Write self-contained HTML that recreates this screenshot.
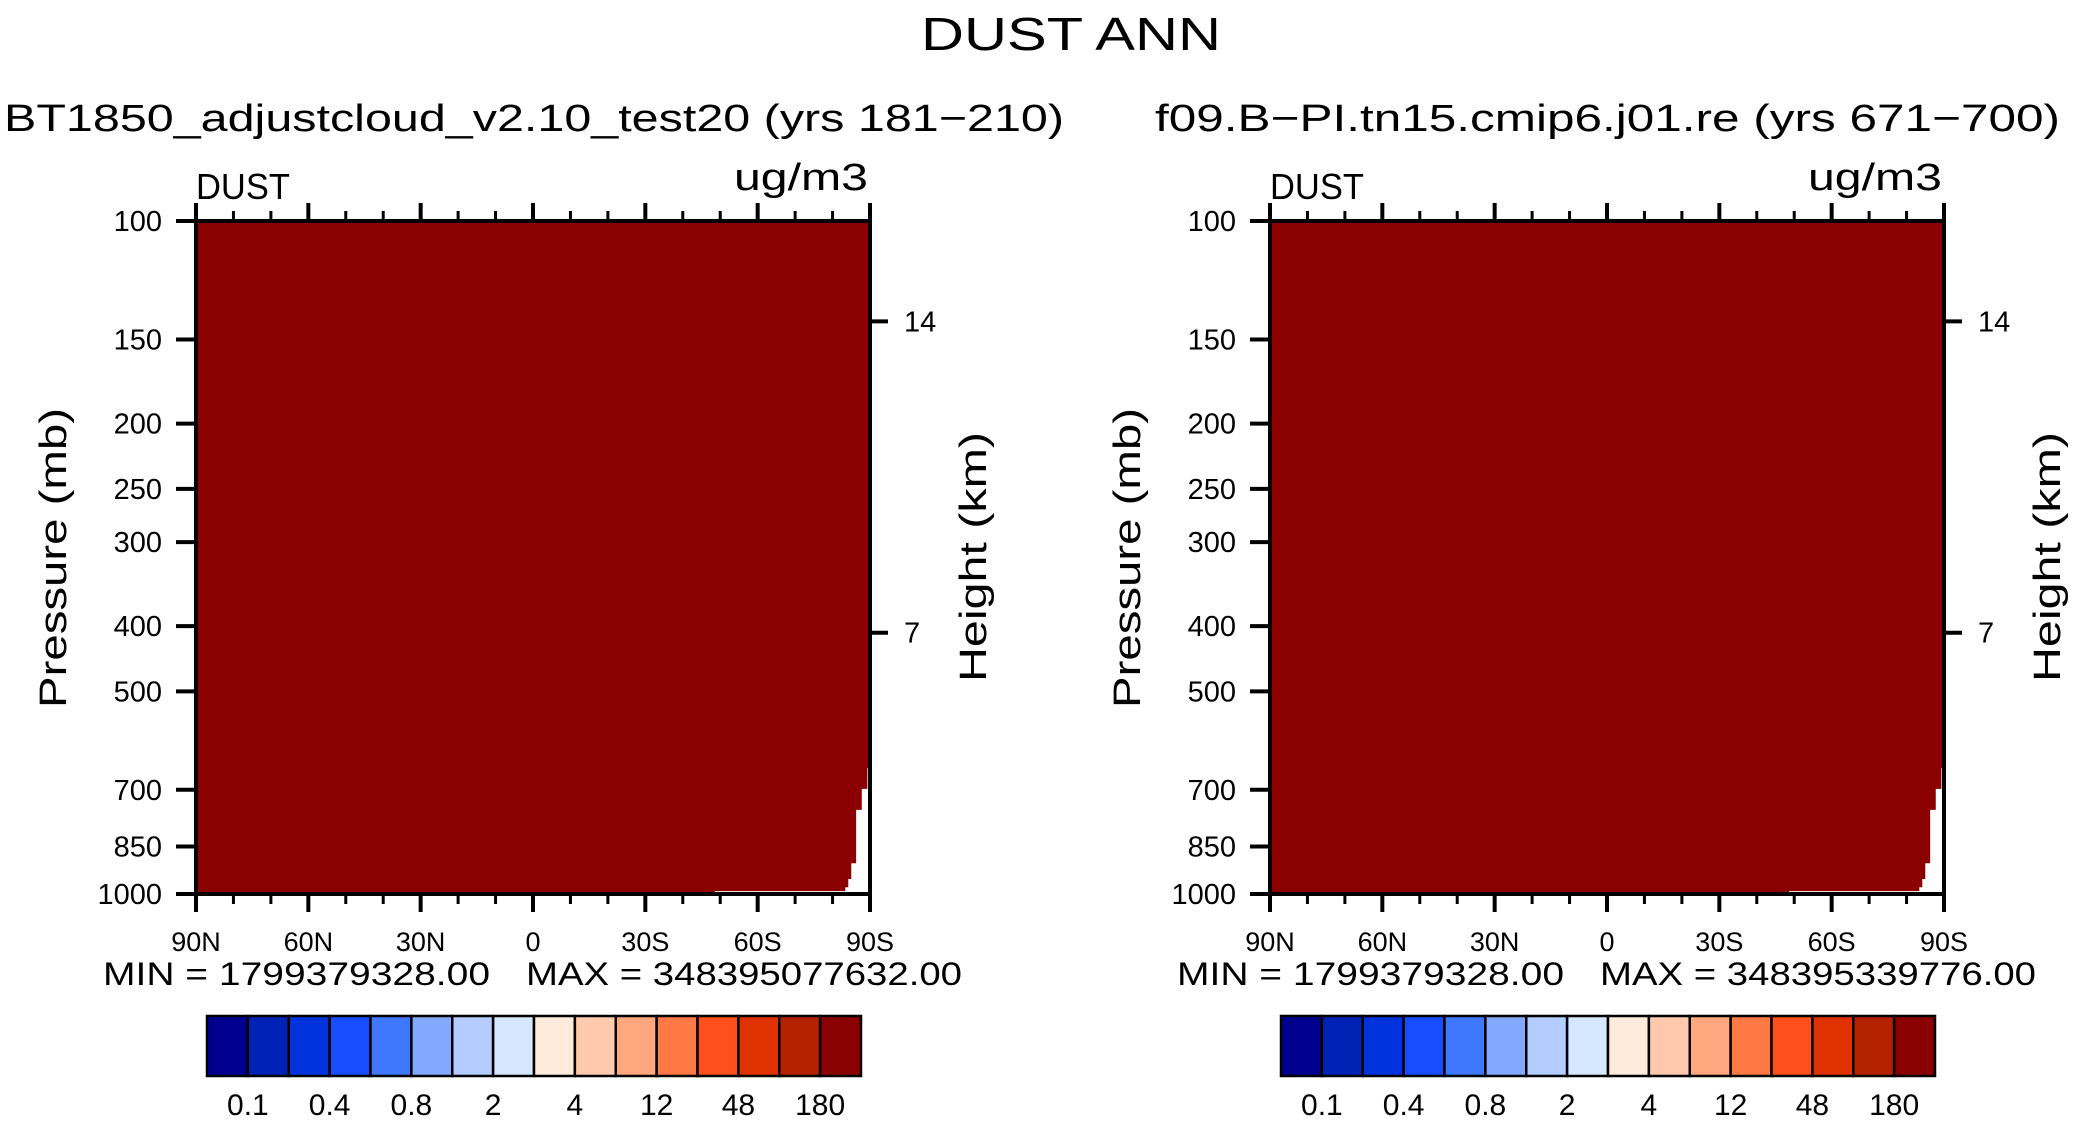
<!DOCTYPE html>
<html><head><meta charset="utf-8">
<style>
html,body{margin:0;padding:0;background:#fff;}
svg{display:block;}
text{font-family:"Liberation Sans","DejaVu Sans",sans-serif;fill:#000;}
</style></head>
<body>
<svg id="chart" width="2077" height="1121" viewBox="0 0 2077 1121" xmlns="http://www.w3.org/2000/svg">
<text x="1071" y="50" font-size="46" text-anchor="middle" textLength="300" lengthAdjust="spacingAndGlyphs">DUST ANN</text>
<text x="4" y="131" font-size="38" textLength="1060" lengthAdjust="spacingAndGlyphs">BT1850_adjustcloud_v2.10_test20 (yrs 181−210)</text>
<text x="1155" y="131" font-size="38" textLength="905" lengthAdjust="spacingAndGlyphs">f09.B−PI.tn15.cmip6.j01.re (yrs 671−700)</text>
<g id="panels"></g>
</svg>
<script>
// ---- data ----
const pressureTicks = [100,150,200,250,300,400,500,700,850,1000];
const heightTicks = [14,7];
const heightTickPressure = [141, 409];
const latTicks = [90,60,30,0,-30,-60,-90];
const latTickLabels = ["90N","60N","30N","0","30S","60S","90S"];
const colorLevels = ["0.1","0.2","0.4","0.6","0.8","1","2","3","4","8","12","24","48","96","180"];
const colorbarColors = ["#00008f","#0022b5","#0033dd","#1a4cff","#3f78ff","#82a8ff","#b4ccff","#d6e8ff","#ffeadb","#ffc9ae","#ffa77e","#ff7945","#ff4f1b","#e03200","#b52200","#8b0000"];
// missing-data region (white) near 90S surface: latitude edge vs. pressure top
const missingLat = [-89.3,-87.8,-86.3,-85.0,-84.2,-83.4,-48.6];
const missingPTop = [650,698,750,900,950,977,990];
const panelTitles = ["left","right"];
const minValues = ["1799379328.00","1799379328.00"];
const maxValues = ["348395077632.00","348395339776.00"];

const NS="http://www.w3.org/2000/svg";
const root=document.getElementById('panels');
function mk(tag,attrs,parent,txt){const e=document.createElementNS(NS,tag);for(const k in attrs)e.setAttribute(k,attrs[k]);if(txt!==undefined)e.textContent=txt;parent.appendChild(e);return e;}

panelTitles.forEach((side,pi)=>{
  const off=pi*1074;
  const L=196+off,R=870+off,T=221,B=894;
  const xs=lat=>L+(90-lat)/180*(R-L);
  const ys=p=>T+Math.log10(p/100)*(B-T);
  const g=mk('g',{},root);
  
  
  const fill=mk('rect',{x:L,y:T,width:R-L,height:B-T,fill:'#8b0000'},g);
  
  
  let pts=[[xs(-90),ys(missingPTop[0])]];
  for(let i=0;i<missingLat.length;i++){
    pts.push([xs(missingLat[i]),ys(missingPTop[i])]);
    const nextP=i+1<missingLat.length?missingPTop[i+1]:1000;
    pts.push([xs(missingLat[i]),ys(nextP)]);
  }
  pts.push([xs(-90),ys(1000)]);
  const miss=mk('polygon',{points:pts.map(p=>p.join(',')).join(' '),fill:'#fff'},g);
  
  
  const fr=mk('rect',{x:L,y:T,width:R-L,height:B-T,fill:'none',stroke:'#000','stroke-width':4},g);
  
  
  for(let lat=90;lat>=-90;lat-=10){
    const major=lat%30===0, x=xs(lat), len=major?18:10;
    mk('line',{x1:x,y1:T,x2:x,y2:T-len,stroke:'#000','stroke-width':major?4:3},g);
    mk('line',{x1:x,y1:B,x2:x,y2:B+len,stroke:'#000','stroke-width':major?4:3},g);
  }
  latTicks.forEach((lat,i)=>{
    const t=mk('text',{x:xs(lat),y:951,'font-size':27,'text-anchor':'middle'},g,latTickLabels[i]);
    
    
  });
  pressureTicks.forEach(p=>{
    const y=ys(p);
    mk('line',{x1:L,y1:y,x2:L-20,y2:y,stroke:'#000','stroke-width':4},g);
    const t=mk('text',{x:162+off,y:y+10,'font-size':29,'text-anchor':'end'},g,String(p));
    
    
  });
  heightTicks.forEach((h,i)=>{
    const y=ys(heightTickPressure[i]);
    mk('line',{x1:R,y1:y,x2:R+18,y2:y,stroke:'#000','stroke-width':4},g);
    const t=mk('text',{x:R+34,y:y+10,'font-size':29},g,String(h));
    
    
  });
  const d=mk('text',{x:L,y:199,'font-size':36,textLength:94,lengthAdjust:'spacingAndGlyphs'},g,'DUST');
  
  
  const u=mk('text',{x:R-2,y:190,'font-size':38,'text-anchor':'end',textLength:134,lengthAdjust:'spacingAndGlyphs'},g,'ug/m3');
  
  
  const py=mk('text',{x:0,y:0,'font-size':38,'text-anchor':'middle',transform:`translate(${66+off},558) rotate(-90)`,textLength:300,lengthAdjust:'spacingAndGlyphs'},g,'Pressure (mb)');
  
  
  const hy=mk('text',{x:0,y:0,'font-size':38,'text-anchor':'middle',transform:`translate(${986+off},557) rotate(-90)`,textLength:250,lengthAdjust:'spacingAndGlyphs'},g,'Height (km)');
  
  
  const mn=mk('text',{x:103+off,y:985,'font-size':32,textLength:387,lengthAdjust:'spacingAndGlyphs'},g,'MIN = '+minValues[pi]);
  
  
  const mx=mk('text',{x:526+off,y:985,'font-size':32,textLength:436,lengthAdjust:'spacingAndGlyphs'},g,'MAX = '+maxValues[pi]);
  
  
  const cL=207+off,cR=861+off,cT=1016,cB=1076,w=(cR-cL)/colorbarColors.length;
  colorbarColors.forEach((c,i)=>{
    const r=mk('rect',{x:cL+i*w,y:cT,width:w,height:cB-cT,fill:c,stroke:'#000','stroke-width':2.5},g);
    
    
  });
  colorLevels.forEach((lv,i)=>{
    if(i%2!==0)return;
    const t=mk('text',{x:cL+(i+1)*w,y:1115,'font-size':30,'text-anchor':'middle'},g,lv);
    
    
  });
});
</script>
</body></html>
